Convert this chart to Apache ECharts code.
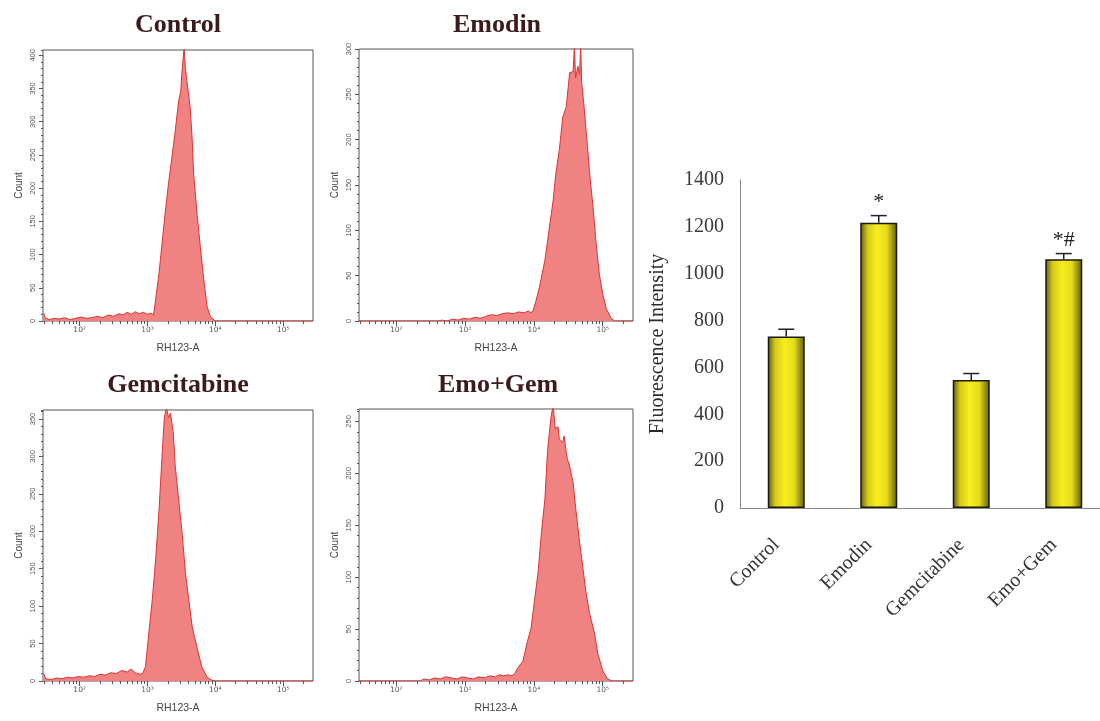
<!DOCTYPE html>
<html>
<head>
<meta charset="utf-8">
<script src="https://cdn.jsdelivr.net/npm/echarts@6/dist/echarts.min.js"></script>
<style>
  html, body { margin: 0; padding: 0; background: #fff; }
  #main { width: 1100px; height: 721px; }
</style>
</head>
<body>
<div id="main"></div>
<script>
// flow histograms: [log10 intensity, count]
const controlHist = [[1.47,12],[1.49,5],[1.55,2],[1.62,4],[1.70,3],[1.78,5],[1.86,2],[1.94,4],[2.02,6],[2.10,4],[2.18,5],[2.26,7],[2.34,5],[2.42,9],[2.50,7],[2.58,11],[2.64,9],[2.70,13],[2.76,10],[2.82,14],[2.88,11],[2.94,13],[3.00,10],[3.05,12],[3.09,9],[3.12,32],[3.17,72],[3.22,122],[3.26,162],[3.31,207],[3.36,246],[3.41,287],[3.46,332],[3.49,345],[3.51,377],[3.54,412],[3.56,380],[3.58,362],[3.63,321],[3.66,272],[3.68,222],[3.73,162],[3.78,111],[3.83,62],[3.88,21],[3.93,6],[4.00,0],[5.44,0]];
const emodinHist = [[1.45,0],[2.62,0],[2.66,1],[2.74,0],[2.82,2],[2.90,1],[2.98,3],[3.06,2],[3.14,4],[3.22,3],[3.30,5],[3.38,7],[3.46,6],[3.54,8],[3.62,9],[3.70,8],[3.78,10],[3.86,9],[3.92,11],[3.96,9],[3.99,12],[4.03,22],[4.08,37],[4.16,67],[4.20,89],[4.28,133],[4.32,163],[4.37,189],[4.42,225],[4.47,236],[4.52,274],[4.57,275],[4.59,305],[4.605,268],[4.64,281],[4.665,272],[4.68,305],[4.695,262],[4.73,236],[4.77,200],[4.81,163],[4.86,125],[4.90,89],[4.95,52],[5.00,30],[5.05,14],[5.12,3],[5.17,0],[5.44,0]];
const gemHist = [[1.47,10],[1.50,3],[1.58,2],[1.66,4],[1.74,3],[1.82,5],[1.90,4],[1.98,6],[2.06,5],[2.14,7],[2.22,6],[2.30,9],[2.38,8],[2.46,11],[2.54,10],[2.62,14],[2.70,12],[2.76,16],[2.82,11],[2.88,9],[2.93,10],[2.97,19],[3.02,64],[3.07,108],[3.12,162],[3.17,228],[3.22,309],[3.25,353],[3.28,365],[3.31,352],[3.34,358],[3.38,331],[3.41,286],[3.46,242],[3.51,198],[3.56,144],[3.61,108],[3.66,72],[3.73,45],[3.80,19],[3.88,5],[3.95,1],[4.00,0],[5.44,0]];
const emoGemHist = [[1.45,0],[2.35,0],[2.40,2],[2.48,1],[2.56,3],[2.64,2],[2.72,4],[2.80,3],[2.88,2],[2.96,4],[3.04,3],[3.12,2],[3.20,4],[3.28,3],[3.36,5],[3.44,4],[3.50,6],[3.56,5],[3.62,6],[3.68,5],[3.72,7],[3.77,13],[3.84,19],[3.91,39],[3.96,51],[4.01,78],[4.06,104],[4.11,143],[4.16,175],[4.20,223],[4.25,255],[4.28,265],[4.31,243],[4.35,245],[4.37,233],[4.42,230],[4.44,236],[4.47,220],[4.49,213],[4.52,207],[4.57,191],[4.61,165],[4.66,136],[4.71,110],[4.76,84],[4.81,65],[4.88,46],[4.93,26],[5.00,10],[5.07,2],[5.14,0],[5.44,0]];

const panelTitles = ['Control', 'Emodin', 'Gemcitabine', 'Emo+Gem'];
const histYMax = [408, 300, 362, 262];
const decades = [2, 3, 4, 5];
const decadeLabels = ['10\u00b2', '10\u00b3', '10\u2074', '10\u2075'];

// bar chart
const categories = ['Control', 'Emodin', 'Gemcitabine', 'Emo+Gem'];
const intensity = [732, 1218, 546, 1062];
const intensityErr = [31, 30, 28, 24];
const signif = ['', '*', '', '*#'];

const chart = echarts.init(document.getElementById('main'));

const hists = [controlHist, emodinHist, gemHist, emoGemHist];
const boxes = [
  { left: 43, top: 50, width: 270, height: 271 },
  { left: 359, top: 49, width: 274, height: 272 },
  { left: 43, top: 410, width: 270, height: 271 },
  { left: 359, top: 409, width: 274, height: 272 }
];
const titlePos = [[178, 25], [497, 25], [178, 385], [498, 385]];
const xMin = 1.46, xMax = 5.44;

// log minor tick positions
const minorLog = [];
for (let e = 1; e <= 5; e++) {
  for (let m = 2; m <= 9; m++) {
    const v = e + Math.log10(m);
    if (v > xMin && v < xMax) minorLog.push(v);
  }
}

const grid = [], xAxis = [], yAxis = [], series = [], graphic = [];

hists.forEach((h, i) => {
  grid.push(Object.assign({ show: true, borderColor: '#555', borderWidth: 1, outerBoundsMode: 'none' }, boxes[i]));
  const ymax = histYMax[i];
  const yMajor = [];
  for (let v = 0; v <= ymax; v += 50) yMajor.push(v);

  xAxis.push({
    type: 'value', gridIndex: i, min: xMin, max: xMax, position: 'bottom',
    axisLine: { show: false }, splitLine: { show: false },
    axisTick: { customValues: decades, length: 5, lineStyle: { color: '#555' } },
    axisLabel: { customValues: decades, formatter: v => decadeLabels[decades.indexOf(v)], fontSize: 7.5, color: '#555', margin: 5, fontFamily: 'DejaVu Sans' },
    name: 'RH123-A', nameLocation: 'middle', nameGap: 22,
    nameTextStyle: { fontSize: 10.5, color: '#444', fontFamily: 'Liberation Sans' }
  });
  xAxis.push({
    type: 'value', gridIndex: i, min: xMin, max: xMax, position: 'bottom',
    axisLine: { show: false }, splitLine: { show: false }, axisLabel: { show: false },
    axisTick: { customValues: minorLog, length: 3, lineStyle: { color: '#555' } }
  });
  yAxis.push({
    type: 'value', gridIndex: i, min: 0, max: ymax, interval: 10, position: 'left',
    axisLine: { show: false }, splitLine: { show: false },
    axisTick: { length: 2, lineStyle: { color: '#555' } },
    axisLabel: { customValues: yMajor, rotate: 90, fontSize: 7.5, color: '#555', margin: 6, fontFamily: 'Liberation Sans' },
    name: 'Count', nameLocation: 'middle', nameGap: 19,
    nameTextStyle: { fontSize: 10, color: '#444', fontFamily: 'Liberation Sans' }
  });
  yAxis.push({
    type: 'value', gridIndex: i, min: 0, max: ymax, position: 'left',
    axisLine: { show: false }, splitLine: { show: false }, axisLabel: { show: false },
    axisTick: { customValues: yMajor, length: 4, lineStyle: { color: '#555' } }
  });
  series.push({
    type: 'line', xAxisIndex: 2 * i, yAxisIndex: 2 * i, data: h,
    symbol: 'none', clip: true, animation: false,
    lineStyle: { color: '#dd3333', width: 1 },
    areaStyle: { color: '#f18282', opacity: 1 }
  });
  graphic.push({
    type: 'text', x: titlePos[i][0], y: titlePos[i][1],
    style: { text: panelTitles[i], font: 'bold 26px "Liberation Serif"', fill: '#3d1a1e', align: 'center', verticalAlign: 'middle' }
  });
});

// bar chart grid (runs past the right edge like the original)
grid.push({ left: 740, top: 180, width: 370, height: 328, outerBoundsMode: 'none' });
xAxis.push({
  type: 'category', gridIndex: 4, data: categories,
  axisLine: { lineStyle: { color: '#888', width: 1 } },
  axisTick: { inside: true, length: 6, lineStyle: { color: '#888' } },
  axisLabel: { rotate: 45, margin: 24, padding: [0, 14, 0, 0], fontSize: 20, color: '#333', fontFamily: 'Liberation Serif' }
});
yAxis.push({
  type: 'value', gridIndex: 4, min: 0, max: 1400, interval: 200,
  axisLine: { show: true, lineStyle: { color: '#888', width: 1 } },
  axisTick: { show: false }, splitLine: { show: false },
  axisLabel: { fontSize: 20, color: '#3a3a3a', margin: 16, fontFamily: 'Liberation Serif', formatter: v => String(v) },
  name: 'Fluorescence Intensity', nameLocation: 'middle', nameGap: 72,
  nameTextStyle: { fontSize: 20, color: '#2a2a2a', fontFamily: 'Liberation Serif' }
});
series.push({
  type: 'bar', xAxisIndex: 8, yAxisIndex: 8, data: intensity, barWidth: 37, animation: false,
  itemStyle: {
    borderColor: '#1a1a10', borderWidth: 1.5,
    color: new echarts.graphic.LinearGradient(0, 0, 1, 0, [
      { offset: 0, color: '#5c5a12' },
      { offset: 0.2, color: '#d4ca1a' },
      { offset: 0.45, color: '#f8ee1e' },
      { offset: 0.72, color: '#e6da1c' },
      { offset: 1, color: '#5c5a12' }
    ])
  }
});
series.push({
  type: 'custom', xAxisIndex: 8, yAxisIndex: 8, animation: false, z: 5,
  data: intensity.map((v, i) => [i, v, intensityErr[i]]),
  renderItem: (params, api) => {
    const x = api.value(0), v = api.value(1), e = api.value(2);
    const top = api.coord([x, v + e]);
    const base = api.coord([x, v]);
    const st = { stroke: '#222', lineWidth: 1.5 };
    const children = [
      { type: 'line', shape: { x1: top[0], y1: base[1], x2: top[0], y2: top[1] }, style: st },
      { type: 'line', shape: { x1: top[0] - 8, y1: top[1], x2: top[0] + 8, y2: top[1] }, style: st }
    ];
    const s = signif[params.dataIndex];
    if (s) {
      children.push({
        type: 'text',
        style: { text: s, x: top[0], y: top[1] - 13, align: 'center', verticalAlign: 'middle', font: '22px "Liberation Serif"', fill: '#222' }
      });
    }
    return { type: 'group', children };
  }
});

chart.setOption({
  animation: false,
  grid, xAxis, yAxis, series, graphic
});
</script>
</body>
</html>
